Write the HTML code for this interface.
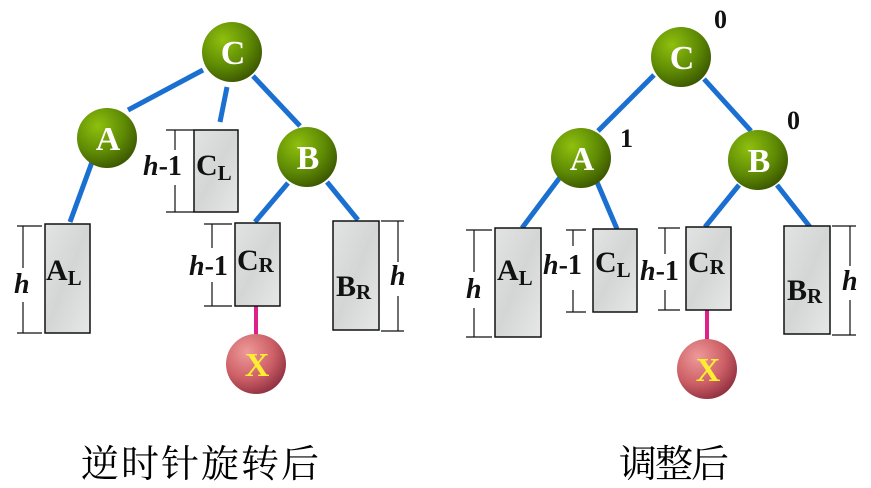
<!DOCTYPE html>
<html><head><meta charset="utf-8"><style>
html,body{margin:0;padding:0;background:#fff;}
svg{display:block;}
.n{font-family:"Liberation Serif",serif;font-weight:bold;font-size:34px;fill:#fff;text-anchor:middle;}
.x{font-family:"Liberation Serif",serif;font-weight:bold;font-size:34px;fill:#ffee33;text-anchor:middle;}
.b{font-family:"Liberation Serif",serif;font-weight:bold;font-size:30px;fill:#111;}
.s{font-size:21px;}
.h{font-family:"Liberation Serif",serif;font-weight:bold;font-size:28px;fill:#111;}
.z{font-family:"Liberation Serif",serif;font-weight:bold;font-size:26px;fill:#111;}
.cap{font-family:"Liberation Serif","Noto Serif CJK SC",serif;font-size:38px;fill:#000;}
</style></head><body>
<svg width="871" height="488" viewBox="0 0 871 488" xmlns="http://www.w3.org/2000/svg">
<defs>
<radialGradient id="g" cx="0.35" cy="0.3" r="0.75">
<stop offset="0" stop-color="#8fc00e"/><stop offset="0.6" stop-color="#5e8a04"/><stop offset="1" stop-color="#3b5600"/>
</radialGradient>
<radialGradient id="p" cx="0.35" cy="0.3" r="0.75">
<stop offset="0" stop-color="#ee9a9a"/><stop offset="0.6" stop-color="#cc5f66"/><stop offset="1" stop-color="#8f3040"/>
</radialGradient>
<linearGradient id="m" x1="0" y1="0" x2="1" y2="1">
<stop offset="0" stop-color="#e2e4e4"/><stop offset="0.5" stop-color="#d4d6d6"/><stop offset="1" stop-color="#e6e8e8"/>
</linearGradient>
</defs>
<g stroke="#1a6fd0" stroke-width="5" stroke-linecap="butt">
<line x1="203" y1="70" x2="128" y2="110"/><line x1="227" y1="87" x2="220" y2="122"/>
<line x1="253" y1="76" x2="300" y2="126"/><line x1="92" y1="162" x2="70" y2="222"/>
<line x1="288" y1="183" x2="255" y2="222"/><line x1="327" y1="182" x2="358" y2="220"/>
<line x1="654" y1="75" x2="598" y2="131"/><line x1="704" y1="79" x2="751" y2="131"/>
<line x1="561" y1="176" x2="522" y2="228"/><line x1="597" y1="182" x2="617" y2="229"/>
<line x1="739" y1="185" x2="705" y2="227"/><line x1="777" y1="185" x2="810" y2="227"/>
</g>
<g stroke="#e0208a" stroke-width="4"><line x1="256" y1="306" x2="256" y2="336"/><line x1="707" y1="310" x2="707" y2="341"/></g>
<g fill="url(#m)" stroke="#111" stroke-width="1.5">
<rect x="194" y="130" width="44" height="82"/><rect x="45" y="224" width="45" height="109"/>
<rect x="235" y="223" width="45" height="83"/><rect x="333" y="221" width="46" height="109"/>
<rect x="495" y="228" width="46" height="109"/><rect x="593" y="229" width="44" height="83"/>
<rect x="686" y="227" width="45" height="83"/><rect x="784" y="226" width="46" height="108"/>
</g>
<g stroke="#111" stroke-width="1.2" fill="none">
<path d="M17 226H42M17 333H42M23 226V268M23 302V333"/>
<path d="M166 130H194M166 212H194M175 130V150M175 185V212"/>
<path d="M204 224H232M204 306H232M212 224V248M212 282V306"/>
<path d="M381 221H404M381 331H404M398 221V262M398 296V331"/>
<path d="M466 230H492M466 337H492M474 230V272M474 308V337"/>
<path d="M566 230H586M566 312H586M573 230V246M573 290V312"/>
<path d="M658 228H680M658 310H680M665 228V254M665 290V310"/>
<path d="M832 226H856M832 335H856M850 226V266M850 300V335"/>
</g>
<g>
<circle cx="232" cy="52" r="30" fill="url(#g)"/><circle cx="107" cy="138" r="30" fill="url(#g)"/><circle cx="307" cy="157" r="30" fill="url(#g)"/>
<circle cx="681" cy="57" r="30" fill="url(#g)"/><circle cx="581" cy="158" r="30" fill="url(#g)"/><circle cx="758" cy="160" r="30" fill="url(#g)"/>
<circle cx="256" cy="364" r="30" fill="url(#p)"/><circle cx="707" cy="369" r="30" fill="url(#p)"/>
</g>
<text class="n" x="233" y="64">C</text><text class="n" x="108" y="150">A</text><text class="n" x="308" y="169">B</text>
<text class="n" x="682" y="69">C</text><text class="n" x="582" y="170">A</text><text class="n" x="759" y="172">B</text>
<text class="x" x="257" y="376">X</text><text class="x" x="708" y="381">X</text>
<text class="z" x="714" y="28">0</text><text class="z" x="620" y="147">1</text><text class="z" x="787" y="129">0</text>
<text class="b" x="196" y="175">C<tspan class="s" dy="5">L</tspan></text>
<text class="b" x="46" y="280">A<tspan class="s" dy="5">L</tspan></text>
<text class="b" x="237" y="270">C<tspan class="s" dy="2">R</tspan></text>
<text class="b" x="336" y="296">B<tspan class="s" dy="3">R</tspan></text>
<text class="b" x="497" y="280">A<tspan class="s" dy="5">L</tspan></text>
<text class="b" x="595" y="272">C<tspan class="s" dy="5">L</tspan></text>
<text class="b" x="688" y="272">C<tspan class="s" dy="2">R</tspan></text>
<text class="b" x="787" y="300">B<tspan class="s" dy="3">R</tspan></text>
<text class="h" x="143" y="175"><tspan font-style="italic">h</tspan>-1</text>
<text class="h" x="189" y="275"><tspan font-style="italic">h</tspan>-1</text>
<text class="h" x="543" y="274"><tspan font-style="italic">h</tspan>-1</text>
<text class="h" x="640" y="280"><tspan font-style="italic">h</tspan>-1</text>
<text class="h" x="14" y="293" font-style="italic">h</text>
<text class="h" x="390" y="285" font-style="italic">h</text>
<text class="h" x="466" y="298" font-style="italic">h</text>
<text class="h" x="842" y="290" font-style="italic">h</text>
<text class="cap" x="81" y="477" textLength="238">逆时针旋转后</text>
<text class="cap" x="619" y="477" textLength="110">调整后</text>
</svg>
</body></html>
